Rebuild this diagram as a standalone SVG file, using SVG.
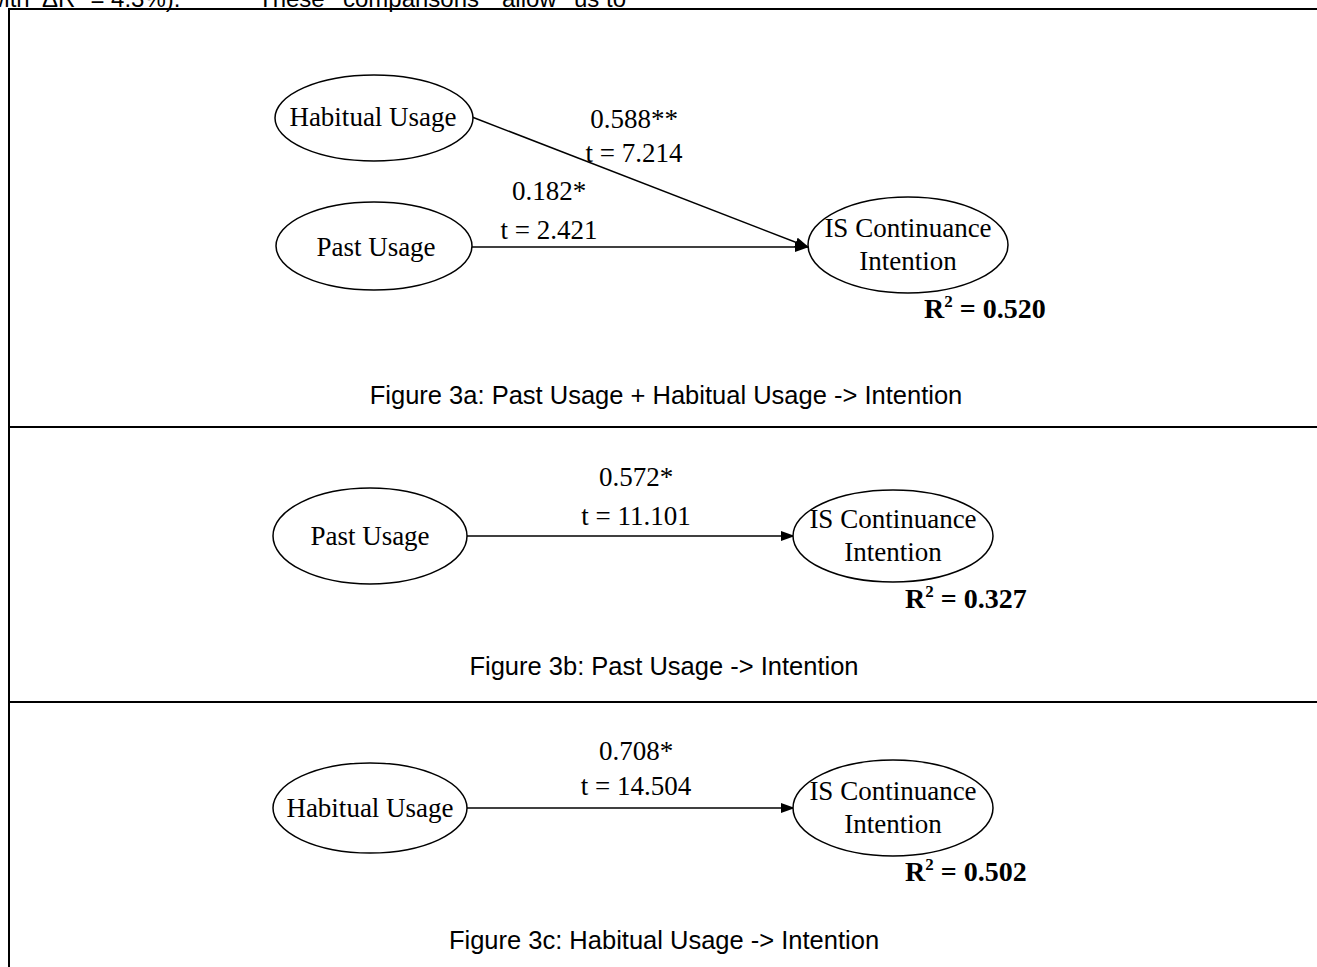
<svg xmlns="http://www.w3.org/2000/svg" width="1317" height="967" viewBox="0 0 1317 967">
  <style>
    .node { fill: #fff; stroke: #000; stroke-width: 1.5; }
    .lbl { font-family: "Liberation Serif", "Times New Roman", serif; font-size: 27px; fill: #000; text-anchor: middle; }
    .r2 { font-family: "Liberation Serif", "Times New Roman", serif; font-size: 28px; font-weight: bold; fill: #000; }
    .cap { font-family: "Liberation Sans", Arial, sans-serif; font-size: 25.5px; fill: #000; text-anchor: middle; }
    .body { font-family: "Liberation Sans", Arial, sans-serif; font-size: 24px; fill: #000; }
    .frame { fill: none; stroke: #000; stroke-width: 2; }
    .edge { stroke: #000; stroke-width: 1.5; fill: none; marker-end: url(#arrow); }
  </style>
  <defs>
    <marker id="arrow" markerWidth="14" markerHeight="10" refX="13" refY="5" orient="auto" markerUnits="userSpaceOnUse">
      <path d="M0,0 L14,5 L0,10 Z" fill="#000"/>
    </marker>
  </defs>
  <rect width="1317" height="967" fill="#fff"/>

  <!-- running text above the figure, clipped by the page edge -->
  <g id="body-text" class="body">
    <text x="-13" y="7">with</text>
    <text x="42" y="7">ΔR<tspan font-size="15" dy="-9">2</tspan><tspan dy="9"> = 4.3%).</tspan></text>
    <text x="258" y="7">These</text>
    <text x="343" y="7">comparisons</text>
    <text x="502" y="7">allow</text>
    <text x="574" y="7">us</text>
    <text x="606" y="7">to</text>
  </g>

  <!-- frame and panel dividers -->
  <g id="frame">
    <path class="frame" d="M1317,9 H9 V967"/>
    <line class="frame" x1="9" y1="427" x2="1317" y2="427"/>
    <line class="frame" x1="9" y1="702" x2="1317" y2="702"/>
  </g>

  <!-- connectors -->
  <g id="connectors">
    <line class="edge" x1="472" y1="117" x2="808" y2="247"/>
    <line class="edge" x1="472" y1="247" x2="808" y2="247"/>
    <line class="edge" x1="467" y1="536" x2="794" y2="536"/>
    <line class="edge" x1="467" y1="808" x2="794" y2="808"/>
  </g>

  <!-- panel a -->
  <g id="a-habitual">
    <ellipse class="node" cx="374" cy="118" rx="99" ry="43"/>
    <text class="lbl" x="373" y="126">Habitual Usage</text>
  </g>
  <g id="a-past">
    <ellipse class="node" cx="374" cy="246" rx="98" ry="44"/>
    <text class="lbl" x="376" y="256">Past Usage</text>
  </g>
  <g id="a-intention">
    <ellipse class="node" cx="908" cy="245" rx="100" ry="48"/>
    <text class="lbl" x="908" y="237">IS Continuance</text>
    <text class="lbl" x="908" y="270">Intention</text>
  </g>
  <g id="a-labels">
    <text class="lbl" x="634" y="128">0.588**</text>
    <text class="lbl" x="634" y="162">t = 7.214</text>
    <text class="lbl" x="549" y="200">0.182*</text>
    <text class="lbl" x="549" y="239">t = 2.421</text>
    <text class="r2" x="924" y="318">R<tspan font-size="17" dy="-11">2</tspan><tspan dy="11"> = 0.520</tspan></text>
    <text class="cap" x="666" y="404">Figure 3a: Past Usage + Habitual Usage -&gt; Intention</text>
  </g>

  <!-- panel b -->
  <g id="b-past">
    <ellipse class="node" cx="370" cy="536" rx="97" ry="48"/>
    <text class="lbl" x="370" y="545">Past Usage</text>
  </g>
  <g id="b-intention">
    <ellipse class="node" cx="893" cy="536" rx="100" ry="46"/>
    <text class="lbl" x="893" y="528">IS Continuance</text>
    <text class="lbl" x="893" y="561">Intention</text>
  </g>
  <g id="b-labels">
    <text class="lbl" x="636" y="486">0.572*</text>
    <text class="lbl" x="636" y="525">t = 11.101</text>
    <text class="r2" x="905" y="608">R<tspan font-size="17" dy="-11">2</tspan><tspan dy="11"> = 0.327</tspan></text>
    <text class="cap" x="664" y="675">Figure 3b: Past Usage -&gt; Intention</text>
  </g>

  <!-- panel c -->
  <g id="c-habitual">
    <ellipse class="node" cx="370" cy="808" rx="97" ry="45"/>
    <text class="lbl" x="370" y="817">Habitual Usage</text>
  </g>
  <g id="c-intention">
    <ellipse class="node" cx="893" cy="808" rx="100" ry="48"/>
    <text class="lbl" x="893" y="800">IS Continuance</text>
    <text class="lbl" x="893" y="833">Intention</text>
  </g>
  <g id="c-labels">
    <text class="lbl" x="636" y="760">0.708*</text>
    <text class="lbl" x="636" y="795">t = 14.504</text>
    <text class="r2" x="905" y="881">R<tspan font-size="17" dy="-11">2</tspan><tspan dy="11"> = 0.502</tspan></text>
    <text class="cap" x="664" y="949">Figure 3c: Habitual Usage -&gt; Intention</text>
  </g>
</svg>
